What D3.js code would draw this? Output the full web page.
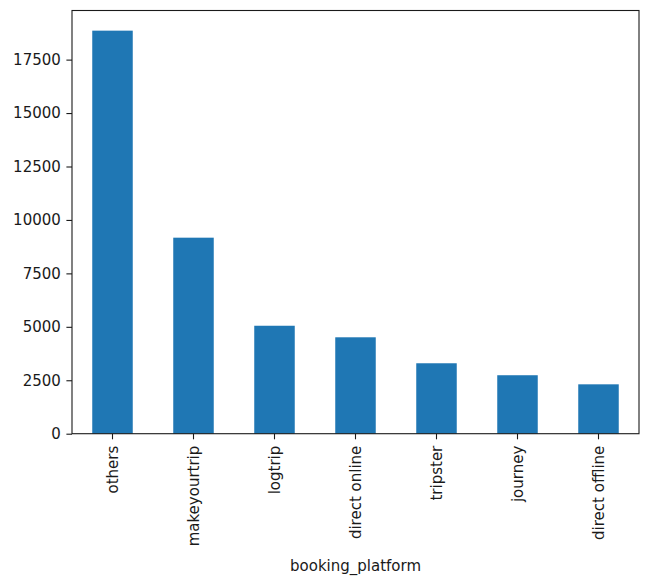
<!DOCTYPE html>
<meta charset="UTF-8">
<html>
<head>
	<title>booking_platform</title>
	<script src="https://d3js.org/d3.v7.min.js"></script>
	<style>
		body { margin: 0; background: #fff; }
		text { font-family: "DejaVu Sans", sans-serif; fill: #1a1a1a; }
	</style>
</head>
<body>
	<svg id="chart" width="650" height="581"></svg>
	<script>
		// bookings per platform
		var platforms = ["others", "makeyourtrip", "logtrip", "direct online", "tripster", "journey", "direct offline"];
		var counts = [18855, 9170, 5050, 4510, 3295, 2735, 2310];
		var yTicks = [0, 2500, 5000, 7500, 10000, 12500, 15000, 17500];

		var svg = d3.select("#chart");
		var axLeft = 72, axRight = 639, axTop = 10.5, axBottom = 433.7;

		var x = d3.scaleBand()
			.domain(platforms)
			.range([axLeft, axRight])
			.paddingInner(0.5)
			.paddingOuter(0.25);
		var y = d3.scaleLinear()
			.domain([0, d3.max(counts) * 1.05])
			.range([axBottom, axTop]);

		// bars
		svg.selectAll("rect.bar")
			.data(platforms)
			.enter()
			.append("rect")
				.attr("class", "bar")
				.attr("x", function(d){ return x(d); })
				.attr("y", function(d, i){ return y(counts[i]); })
				.attr("width", x.bandwidth())
				.attr("height", function(d, i){ return y(0) - y(counts[i]); })
				.style("fill", "#1f77b4");

		// y axis
		var yAxis = svg.append("g")
			.attr("transform", "translate(" + axLeft + ",0)")
			.call(d3.axisLeft(y).tickValues(yTicks).tickSize(5.6).tickPadding(5.6).tickFormat(d3.format("d")));
		yAxis.select(".domain").remove();
		yAxis.selectAll("text").style("font-size", "15px").attr("fill", "#1a1a1a");
		yAxis.selectAll("line").attr("stroke", "#1a1a1a").attr("stroke-width", 1.1);

		// x axis with rotated labels
		var xAxis = svg.append("g")
			.attr("transform", "translate(0," + axBottom + ")")
			.call(d3.axisBottom(x).tickSize(5.6).tickPadding(0));
		xAxis.select(".domain").remove();
		xAxis.selectAll("line").attr("stroke", "#1a1a1a").attr("stroke-width", 1.1);
		xAxis.selectAll("text")
			.style("font-size", "15px")
			.attr("fill", "#1a1a1a")
			.attr("y", 0)
			.attr("dy", null)
			.attr("text-anchor", "end")
			.attr("dominant-baseline", "central")
			.attr("transform", "translate(0,12) rotate(-90)");

		// frame
		svg.append("rect")
			.attr("x", axLeft)
			.attr("y", axTop)
			.attr("width", axRight - axLeft)
			.attr("height", axBottom - axTop)
			.style("fill", "none")
			.style("stroke", "#1a1a1a")
			.style("stroke-width", 1.1);

		svg.append("text")
			.attr("x", (axLeft + axRight) / 2)
			.attr("y", 571)
			.attr("text-anchor", "middle")
			.style("font-size", "15px")
			.text("booking_platform");
	</script>
</body>
</html>
